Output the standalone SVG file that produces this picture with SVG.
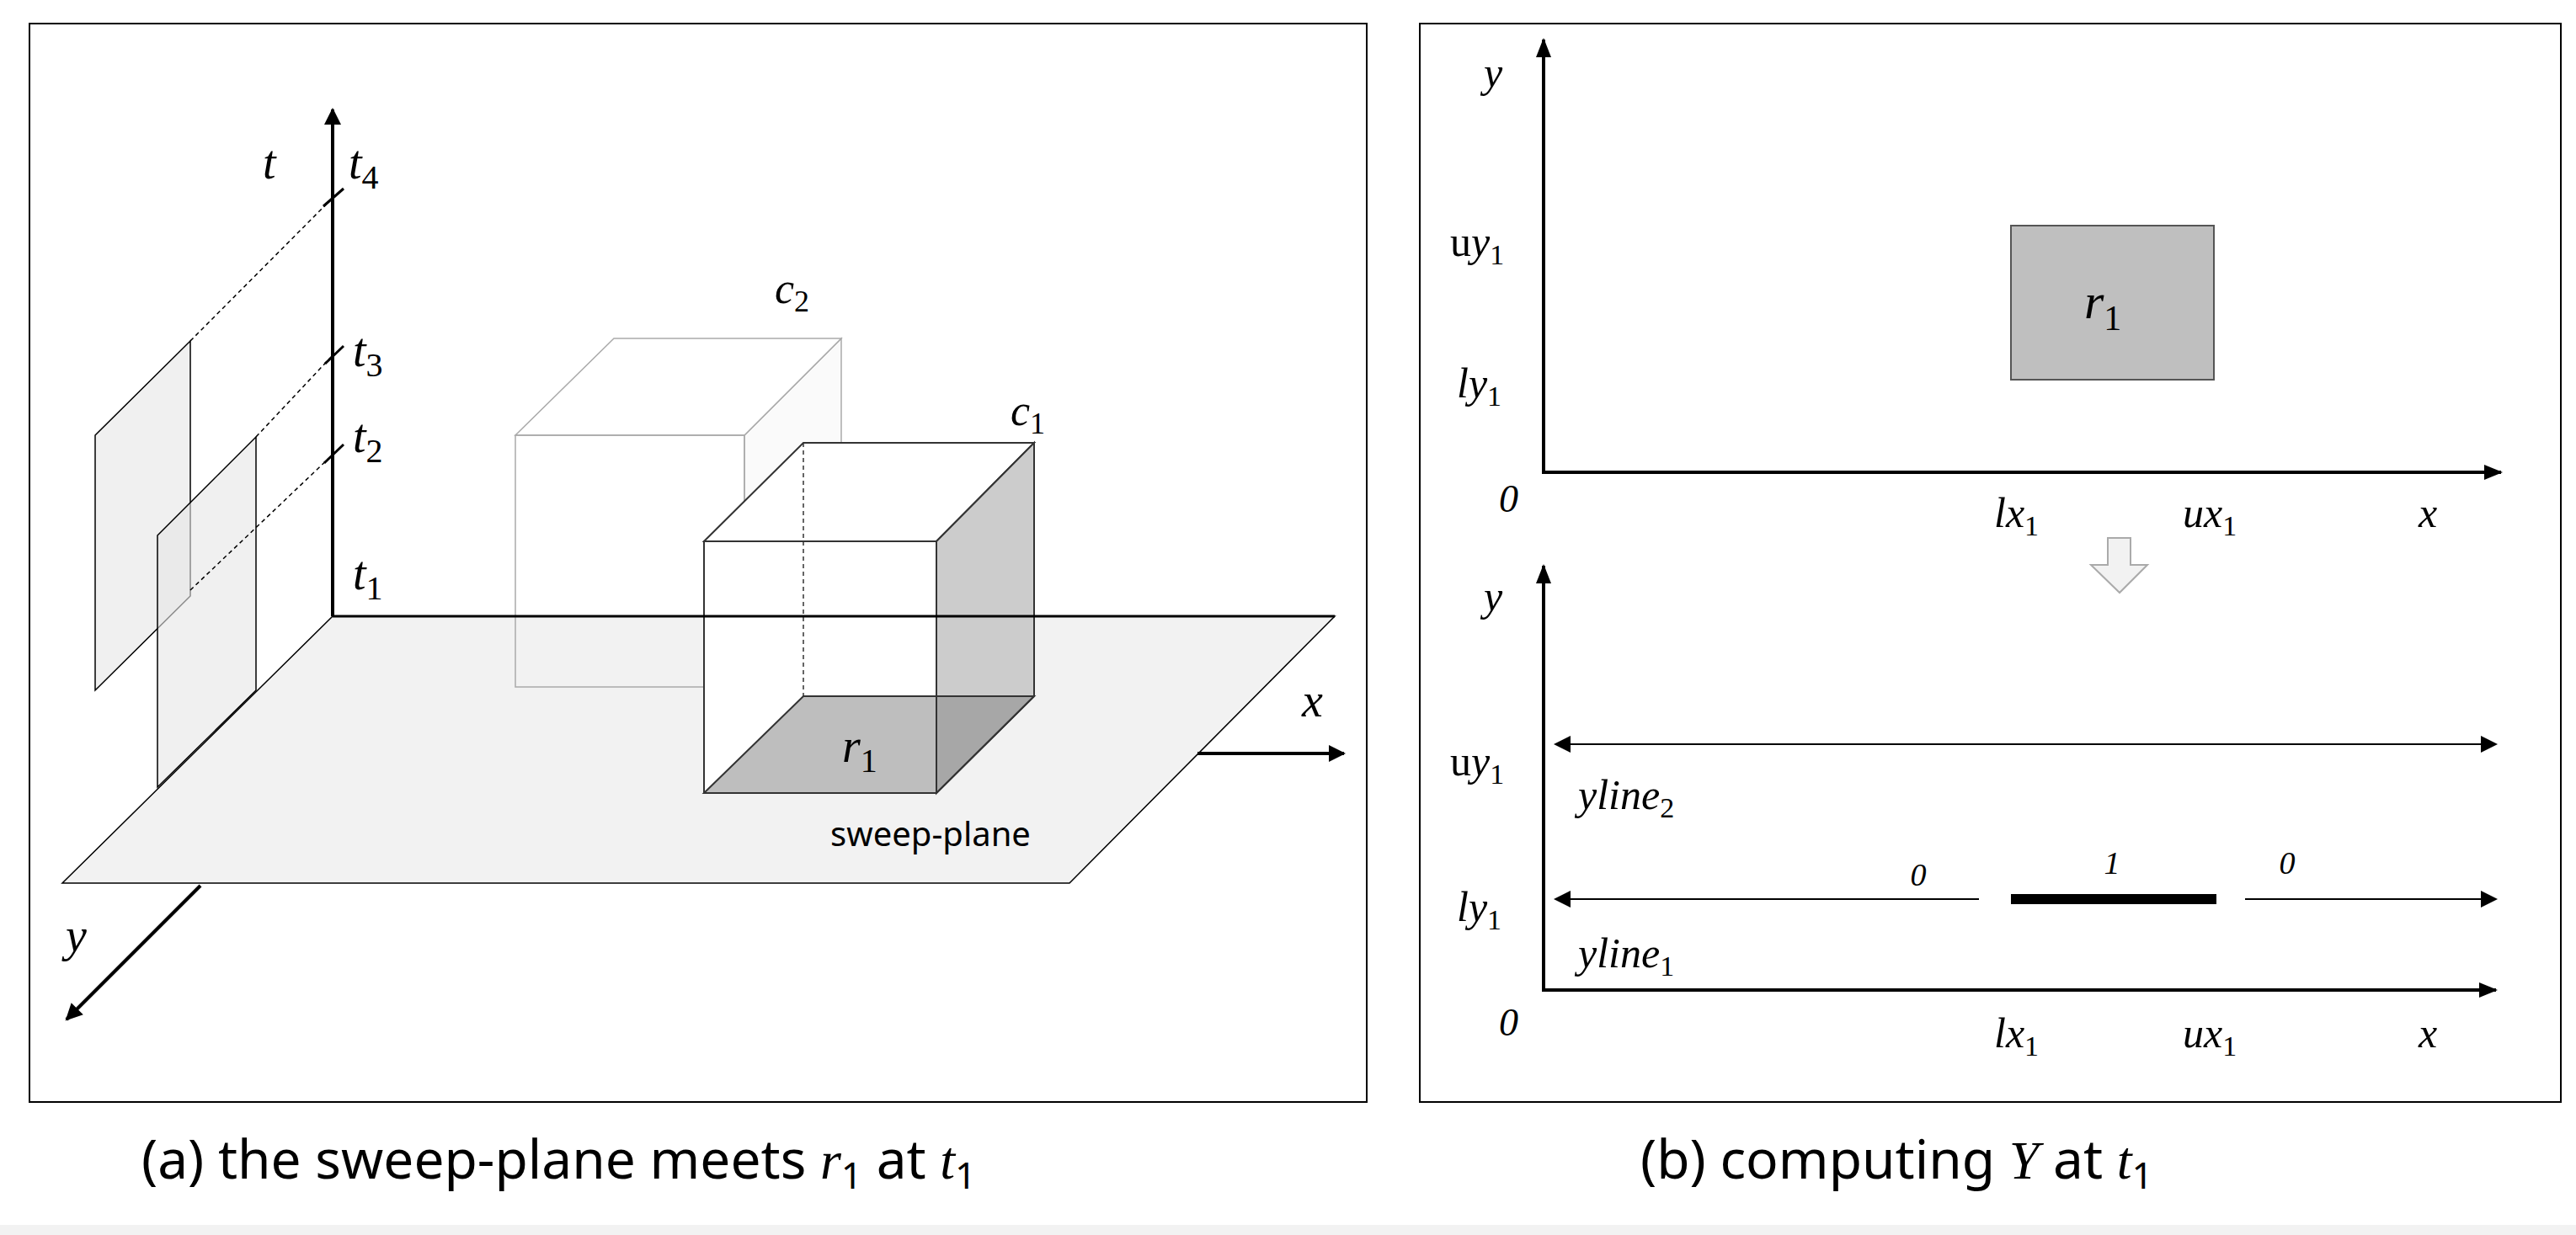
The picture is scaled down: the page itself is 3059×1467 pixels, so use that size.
<svg xmlns="http://www.w3.org/2000/svg" width="3059" height="1467" viewBox="0 0 3059 1467">
<style>
.m{font-family:"Liberation Serif",serif;font-style:italic;fill:#000}
.n{font-family:"Noto Sans","Liberation Sans",sans-serif;fill:#000}
.ax{stroke:#000;stroke-width:4;fill:none}
.th{stroke:#000;stroke-width:2;fill:none}
</style>
<defs>
<marker id="ah" viewBox="0 0 10 10" refX="9" refY="5" markerWidth="6" markerHeight="6" orient="auto-start-reverse" markerUnits="userSpaceOnUse" style="overflow:visible">
<path d="M0,0 L10,5 L0,10 z" fill="#000"/>
</marker>
<marker id="big" viewBox="0 0 10 10" refX="9" refY="5" markerWidth="24" markerHeight="20" orient="auto-start-reverse" markerUnits="userSpaceOnUse"><path d="M0,0 L10,5 L0,10 z" fill="#000"/></marker>
</defs>
<rect width="3059" height="1467" fill="#fff"/>
<rect x="0" y="1455" width="3059" height="12" fill="#f2f2f2"/>
<g id="frameA"><rect x="35" y="28" width="1588" height="1281" fill="none" stroke="#000" stroke-width="2"/></g>
<g id="frameB"><rect x="1686" y="28" width="1355" height="1281" fill="none" stroke="#000" stroke-width="2"/></g>

<g id="planes">
<polygon points="113,517 226,405 226,708 113,820" fill="#e6e6e6" fill-opacity="0.6" stroke="#000" stroke-width="1.5"/>
<polygon points="187,636 304,519 304,820 187,935" fill="#e6e6e6" fill-opacity="0.6" stroke="#000" stroke-width="1.5"/>
</g>
<g id="sweep-plane">
<polygon points="395,732 1585,732 1270,1049 74,1049" fill="#f2f2f2" stroke="#000" stroke-width="1.5"/>
<text class="n" x="1105" y="1005" font-size="40" text-anchor="middle">sweep-plane</text>
</g>
<g id="c2">
<polygon points="884,517 999,402 999,700 884,816" fill="#fafafa" stroke="#aaa" stroke-width="1.5"/>
<polygon points="612,517 729,402 999,402 884,517" fill="#fff" stroke="#aaa" stroke-width="1.5"/>
<rect x="612" y="517" width="272" height="299" fill="none" stroke="#aaa" stroke-width="1.5"/>
<text class="m" x="920" y="360" font-size="52">c<tspan font-size="36" dy="10" font-style="normal">2</tspan></text>
</g>
<g id="c1">
<polygon points="836,643 954,526 1228,526 1112,643" fill="#fff" stroke="#333" stroke-width="2"/>
<rect x="836" y="643" width="276" height="299" fill="#fff" stroke="#333" stroke-width="2"/>
<polygon points="1112,643 1228,526 1228,827 1112,942" fill="#cccccc" stroke="#333" stroke-width="2"/>
<polygon points="836,942 954,827 1228,827 1112,942" fill="#888" fill-opacity="0.55" stroke="#333" stroke-width="2"/>
<line x1="954" y1="526" x2="954" y2="827" stroke="#333" stroke-width="1.5" stroke-dasharray="5,4"/>
<line x1="1112" y1="643" x2="1112" y2="942" stroke="#333" stroke-width="2"/>
<text class="m" x="1200" y="505" font-size="52">c<tspan font-size="36" dy="10" font-style="normal">1</tspan></text>
<text class="m" x="1000" y="905" font-size="56">r<tspan font-size="40" dy="12" font-style="normal">1</tspan></text>
</g>
<g id="connectors">
<line class="ax" x1="395" y1="732" x2="395" y2="130" marker-end="url(#big)"/>
<line class="ax" x1="1422" y1="895" x2="1596" y2="895" marker-end="url(#big)"/>
<line class="ax" x1="238" y1="1052" x2="79" y2="1211" marker-end="url(#big)"/>
<line x1="395" y1="732" x2="1585" y2="732" stroke="#000" stroke-width="3"/>
<g stroke="#000" stroke-width="1.5" stroke-dasharray="5,4">
<line x1="226" y1="405" x2="395" y2="235"/>
<line x1="304" y1="519" x2="395" y2="422"/>
<line x1="226" y1="701" x2="395" y2="540"/>
</g>
<g stroke="#000" stroke-width="3">
<line x1="384" y1="245" x2="408" y2="224"/>
<line x1="386" y1="432" x2="408" y2="411"/>
<line x1="385" y1="550" x2="408" y2="528"/>
</g>
</g>
<g id="labelsA" font-size="56">
<text class="m" x="312" y="212">t</text>
<text class="m" x="414" y="212">t<tspan font-size="40" dy="12" font-style="normal">4</tspan></text>
<text class="m" x="419" y="435">t<tspan font-size="40" dy="12" font-style="normal">3</tspan></text>
<text class="m" x="419" y="537">t<tspan font-size="40" dy="12" font-style="normal">2</tspan></text>
<text class="m" x="419" y="700">t<tspan font-size="40" dy="12" font-style="normal">1</tspan></text>
<text class="m" x="1546" y="851">x</text>
<text class="m" x="78" y="1130">y</text>
</g>
<g id="captionA"><text class="n" x="168" y="1400" font-size="64">(a) the sweep-plane meets <tspan class="m" font-family="Liberation Serif">r</tspan><tspan font-size="44" dy="12">1</tspan><tspan dy="-12"> at </tspan><tspan class="m" font-family="Liberation Serif">t</tspan><tspan font-size="44" dy="12">1</tspan></text></g>

<g id="top-chart">
<rect x="2388" y="268" width="241" height="183" fill="#bfbfbf" stroke="#555" stroke-width="2"/>
<text class="m" x="2475" y="378" font-size="60">r<tspan font-size="42" dy="14" font-style="normal">1</tspan></text>
<polyline class="ax" points="1833,47 1833,561 2970,561"/>
<polygon points="1824,68 1833,45 1842,68" fill="#000"/>
<polygon points="2950,552 2972,561 2950,570" fill="#000"/>
<text class="m" x="1762" y="103" font-size="50">y</text>
<text class="m" x="1722" y="304" font-size="50"><tspan font-style="normal">u</tspan>y<tspan font-size="34" dy="10" font-style="normal">1</tspan></text>
<text class="m" x="1730" y="472" font-size="50">ly<tspan font-size="34" dy="10" font-style="normal">1</tspan></text>
<text class="m" x="1780" y="608" font-size="46" font-style="normal">0</text>
<text class="m" x="2368" y="626" font-size="50">lx<tspan font-size="34" dy="10" font-style="normal">1</tspan></text>
<text class="m" x="2592" y="626" font-size="50">ux<tspan font-size="34" dy="10" font-style="normal">1</tspan></text>
<text class="m" x="2872" y="626" font-size="50">x</text>
</g>
<g id="hollow-arrow"><polygon points="2503,639 2530,639 2530,671 2550,671 2517,704 2483,671 2503,671" fill="#f2f2f2" stroke="#aaa" stroke-width="2"/></g>
<g id="bottom-chart">
<polyline class="ax" points="1833,672 1833,1176 2964,1176"/>
<polygon points="1824,693 1833,670 1842,693" fill="#000"/>
<polygon points="2944,1167 2966,1176 2944,1185" fill="#000"/>
<line class="th" x1="1847" y1="884" x2="2964" y2="884" marker-start="url(#big)" marker-end="url(#big)"/>
<line class="th" x1="1847" y1="1068" x2="2350" y2="1068" marker-start="url(#big)"/>
<line x1="2388" y1="1068" x2="2632" y2="1068" stroke="#000" stroke-width="12"/>
<line class="th" x1="2666" y1="1068" x2="2964" y2="1068" marker-end="url(#big)"/>
<text class="m" x="1762" y="725" font-size="50">y</text>
<text class="m" x="1722" y="921" font-size="50"><tspan font-style="normal">u</tspan>y<tspan font-size="34" dy="10" font-style="normal">1</tspan></text>
<text class="m" x="1874" y="961" font-size="50">yline<tspan font-size="34" dy="10" font-style="normal">2</tspan></text>
<text class="m" x="1730" y="1094" font-size="50">ly<tspan font-size="34" dy="10" font-style="normal">1</tspan></text>
<text class="m" x="1874" y="1149" font-size="50">yline<tspan font-size="34" dy="10" font-style="normal">1</tspan></text>
<text class="m" x="1780" y="1230" font-size="46" font-style="normal">0</text>
<text class="m" x="2368" y="1244" font-size="50">lx<tspan font-size="34" dy="10" font-style="normal">1</tspan></text>
<text class="m" x="2592" y="1244" font-size="50">ux<tspan font-size="34" dy="10" font-style="normal">1</tspan></text>
<text class="m" x="2872" y="1244" font-size="50">x</text>
<text class="m" x="2278" y="1052" font-size="38" font-style="normal" text-anchor="middle">0</text>
<text class="m" x="2508" y="1038" font-size="38" font-style="normal" text-anchor="middle">1</text>
<text class="m" x="2716" y="1038" font-size="38" font-style="normal" text-anchor="middle">0</text>
</g>
<g id="captionB"><text class="n" x="1948" y="1400" font-size="64">(b) computing <tspan class="m" font-family="Liberation Serif">Y</tspan> at <tspan class="m" font-family="Liberation Serif">t</tspan><tspan font-size="44" dy="12">1</tspan></text></g>
</svg>
